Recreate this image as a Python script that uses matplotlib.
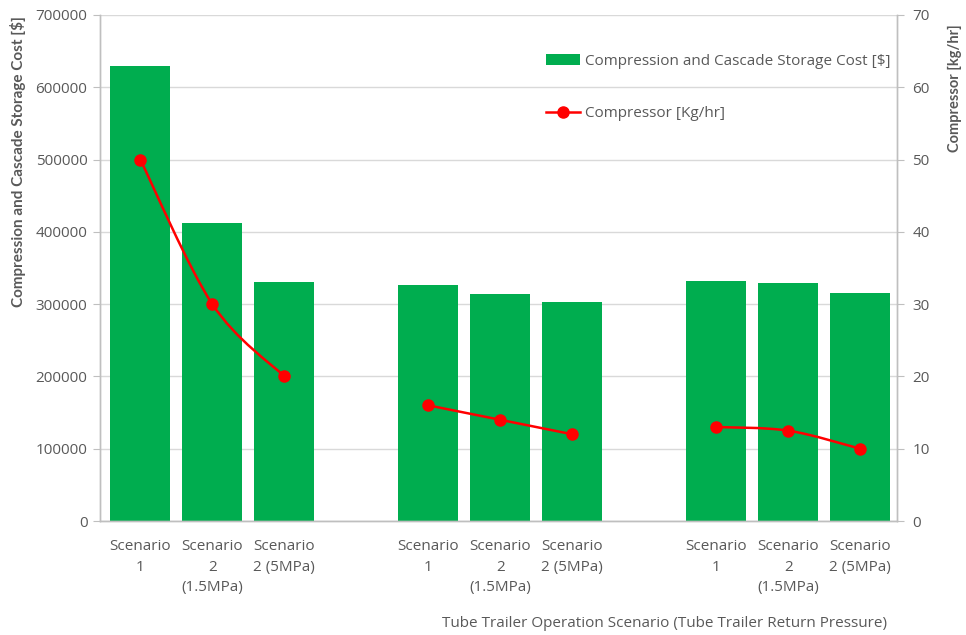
import matplotlib
matplotlib.use("Agg")
import matplotlib.pyplot as plt
from matplotlib.path import Path
from matplotlib.patches import PathPatch
from matplotlib.lines import Line2D
from matplotlib.patches import Patch

# Data
group_labels = ["Scenario\n1", "Scenario\n2\n(1.5MPa)", "Scenario\n2 (5MPa)"]
n_groups = 3
cost_usd = [629000, 412000, 331000,
            327000, 314000, 303000,
            332000, 329000, 315000]
compressor_kg_hr = [50, 30, 20,
                    16, 14, 12,
                    13, 12.5, 10]

GREEN = "#00AD4F"
RED = "#FF0000"
TEXT = "#595959"
GRID = "#D9D9D9"

plt.rcParams["font.family"] = ["Open Sans", "DejaVu Sans"]

fig = plt.figure(figsize=(9.66, 6.35), dpi=100)
ax = fig.add_axes([0.1035, 0.1795, 0.825, 0.797])
ax2 = ax.twinx()

# bar positions: three groups of three with a gap between groups
positions = []
for g in range(n_groups):
    for k in range(3):
        positions.append(g * 4 + k)

ax.bar(positions, cost_usd, width=0.83, color=GREEN, zorder=2)
ax.set_ylim(0, 700000)
ax.set_yticks(range(0, 700001, 100000))
ax.set_yticklabels([str(v) for v in range(0, 700001, 100000)])
ax.set_xlim(-0.56, 10.51)
ax.set_xticks(positions)
ax.set_xticklabels(group_labels * n_groups, linespacing=1.5)
ax.yaxis.grid(True, color=GRID, linewidth=1.0, zorder=0)
ax.set_axisbelow(True)

# smoothed line per group, drawn as cubic Bezier through the points
def smooth_path(xs, ys):
    verts = [(xs[0], ys[0])]
    codes = [Path.MOVETO]
    n = len(xs)
    for i in range(n - 1):
        x0, y0 = xs[max(i - 1, 0)], ys[max(i - 1, 0)]
        x1, y1 = xs[i], ys[i]
        x2, y2 = xs[i + 1], ys[i + 1]
        x3, y3 = xs[min(i + 2, n - 1)], ys[min(i + 2, n - 1)]
        c1 = (x1 + (x2 - x0) / 6.0, y1 + (y2 - y0) / 6.0)
        c2 = (x2 - (x3 - x1) / 6.0, y2 - (y3 - y1) / 6.0)
        verts += [c1, c2, (x2, y2)]
        codes += [Path.CURVE4] * 3
    return Path(verts, codes)

for g in range(n_groups):
    xs = positions[g * 3:(g + 1) * 3]
    ys = compressor_kg_hr[g * 3:(g + 1) * 3]
    ax2.add_patch(PathPatch(smooth_path(xs, ys), facecolor="none",
                            edgecolor=RED, linewidth=1.8, zorder=3))
    ax2.plot(xs, ys, linestyle="none", marker="o", markersize=8,
             color=RED, zorder=4)

ax2.set_ylim(0, 70)
ax2.set_yticks(range(0, 71, 10))

# styling
for a in (ax, ax2):
    a.spines["top"].set_visible(False)
    for s in ("left", "right", "bottom"):
        a.spines[s].set_color("#BFBFBF")
        a.spines[s].set_linewidth(1.0)
    a.tick_params(colors=TEXT, labelsize=11)
    a.tick_params(axis="y", color="#BFBFBF", length=5)
ax.tick_params(axis="x", length=0, pad=13)
ax.tick_params(axis="y", pad=4)
ax2.tick_params(axis="y", pad=6)

ax.set_ylabel("Compression and Cascade Storage Cost [$]", color=TEXT,
              fontsize=11, fontweight="bold", family=["Lato", "DejaVu Sans"])
ax2.set_ylabel("Compressor [kg/hr]", color=TEXT, fontsize=10.5,
               fontweight="bold", family=["Lato", "DejaVu Sans"])
ax2.yaxis.set_label_coords(1.064, 0.856)
ax.yaxis.set_label_coords(-0.093, 0.71)

fig.text(0.688, 0.006, "Tube Trailer Operation Scenario (Tube Trailer Return Pressure)",
         ha="center", va="bottom", color=TEXT, fontsize=11)

handles = [Patch(facecolor=GREEN, edgecolor="none"),
           Line2D([0], [0], color=RED, linewidth=1.8, marker="o", markersize=8)]
labels = ["Compression and Cascade Storage Cost [$]", "Compressor [Kg/hr]"]
ax2.legend(handles, labels, loc="upper left", bbox_to_anchor=(0.543, 0.95),
           frameon=False, fontsize=11, labelcolor=TEXT, labelspacing=2.45,
           handlelength=2.2, handletextpad=0.3)

fig.savefig("out.png", dpi=100)
